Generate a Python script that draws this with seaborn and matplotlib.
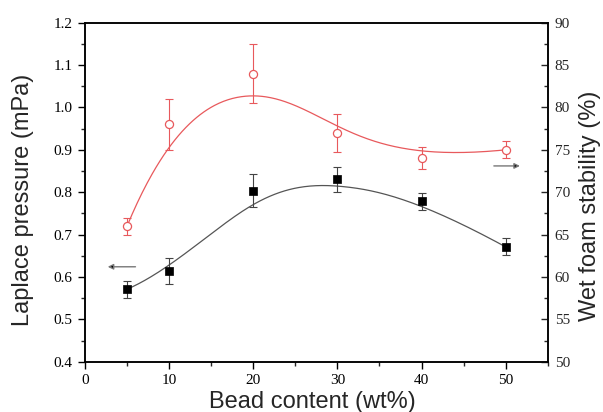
import numpy as np
import pandas as pd
import matplotlib
matplotlib.use("Agg")
import matplotlib.pyplot as plt
from matplotlib.ticker import MultipleLocator
import seaborn as sns

# ---- data ----
bead_content = [5, 10, 20, 30, 40, 50]
laplace_pressure = [0.571, 0.614, 0.804, 0.830, 0.779, 0.671]
laplace_err = [0.02, 0.03, 0.04, 0.03, 0.02, 0.02]
foam_stability = [66.0, 78.0, 84.0, 77.0, 74.0, 75.0]
foam_err = [1.0, 3.0, 3.5, 2.2, 1.3, 1.0]

x_ticks = [0, 10, 20, 30, 40, 50]
left_ticks = [0.4, 0.5, 0.6, 0.7, 0.8, 0.9, 1.0, 1.1, 1.2]
right_ticks = [50, 55, 60, 65, 70, 75, 80, 85, 90]

RED = "#e8595c"


def bspline(cx, cy, k=3, n=300):
    """Clamped uniform B-spline using the data points as control points."""
    cx = np.asarray(cx, float)
    cy = np.asarray(cy, float)
    m = len(cx)
    knots = np.concatenate([np.zeros(k), np.linspace(0, 1, m - k + 1), np.ones(k)])
    t = np.linspace(0, 1, n)
    t[-1] -= 1e-9
    N = np.zeros((len(knots) - 1, n))
    for i in range(len(knots) - 1):
        N[i] = (t >= knots[i]) & (t < knots[i + 1])
    for d in range(1, k + 1):
        Nn = np.zeros((len(knots) - 1 - d, n))
        for i in range(len(knots) - 1 - d):
            a = knots[i + d] - knots[i]
            b = knots[i + d + 1] - knots[i + 1]
            term = 0
            if a > 0:
                term = term + (t - knots[i]) / a * N[i]
            if b > 0:
                term = term + (knots[i + d + 1] - t) / b * N[i + 1]
            Nn[i] = term
        N = Nn
    return cx @ N, cy @ N


sns.set_style("ticks")
plt.rcParams["font.family"] = ["Liberation Serif", "DejaVu Serif"]

fig = plt.figure(figsize=(6.03, 4.12), dpi=100)
ax = fig.add_axes([85 / 603, 1 - 361.7 / 412, (547.7 - 85) / 603, (361.7 - 22.7) / 412])
ax2 = ax.twinx()

bx1, by1 = bspline(bead_content, laplace_pressure)
bx2, by2 = bspline(bead_content, foam_stability)
df1 = pd.DataFrame({"x": bx1, "y": by1})
df2 = pd.DataFrame({"x": bx2, "y": by2})

sns.lineplot(data=df1, x="x", y="y", ax=ax, color="#555555", lw=0.9, sort=False)
ax.errorbar(bead_content, laplace_pressure, yerr=laplace_err, fmt="none",
            ecolor="#444444", elinewidth=0.8, capsize=2.6, capthick=0.8)
sns.scatterplot(x=bead_content, y=laplace_pressure, ax=ax, marker="s", s=26,
                color="black", edgecolor="black", linewidth=0.5, zorder=5)

sns.lineplot(data=df2, x="x", y="y", ax=ax2, color=RED, lw=0.9, sort=False)
ax2.errorbar(bead_content, foam_stability, yerr=foam_err, fmt="none",
             ecolor=RED, elinewidth=0.8, capsize=2.6, capthick=0.8)
sns.scatterplot(x=bead_content, y=foam_stability, ax=ax2, marker="o", s=34,
                facecolor="white", edgecolor=RED, linewidth=0.9, zorder=5)

# arrows
ax.annotate("", xy=(2.7, 0.624), xytext=(6.0, 0.624),
            arrowprops=dict(arrowstyle="-|>", color="#777777", lw=1.0,
                            mutation_scale=8, shrinkA=0, shrinkB=0,
                            fc="black", ec="#777777"))
ax2.annotate("", xy=(51.7, 73.1), xytext=(48.6, 73.1),
             arrowprops=dict(arrowstyle="-|>", color="#777777", lw=1.0,
                             mutation_scale=8, shrinkA=0, shrinkB=0,
                             fc="black", ec="#777777"))

ax.set_xlim(0, 55)
ax.set_ylim(0.4, 1.2)
ax2.set_ylim(50, 90)
ax.set_xticks(x_ticks)
ax.set_xticklabels([str(t) for t in x_ticks])
ax.set_yticks(left_ticks)
ax.set_yticklabels([f"{t:.1f}" for t in left_ticks])
ax2.set_yticks(right_ticks)
ax2.set_yticklabels([str(t) for t in right_ticks])
ax.xaxis.set_minor_locator(MultipleLocator(5))
ax.yaxis.set_minor_locator(MultipleLocator(0.05))
ax2.yaxis.set_minor_locator(MultipleLocator(2.5))

for a in (ax, ax2):
    for s in a.spines.values():
        s.set_linewidth(1.1)
        s.set_color("black")
ax.tick_params(axis="both", which="major", direction="out", length=5, width=1.0,
               labelsize=11, colors="black", pad=4)
ax.tick_params(axis="both", which="minor", direction="out", length=3, width=1.0)
ax2.tick_params(axis="y", which="major", direction="in", length=5, width=1.0,
                labelsize=11, pad=5)
ax2.tick_params(axis="y", which="minor", direction="in", length=3, width=1.0)

lab = dict(family=["Liberation Sans", "DejaVu Sans"], fontsize=17)
ax.set_xlabel("Bead content (wt%)", **lab)
ax.set_ylabel("Laplace pressure (mPa)", **lab)
ax2.set_ylabel("Wet foam stability (%)", **lab)
ax.xaxis.set_label_coords(0.5 - 4 / 462.7, -(393 - 361.7 - 2) / 339)
ax.yaxis.set_label_coords((34 - 85) / 462.7, 0.5 - 8 / 339)
ax2.yaxis.set_label_coords(1 + (579 - 547.7) / 462.7, 0.5 - 14 / 339)

fig.savefig("out.png", dpi=100)
